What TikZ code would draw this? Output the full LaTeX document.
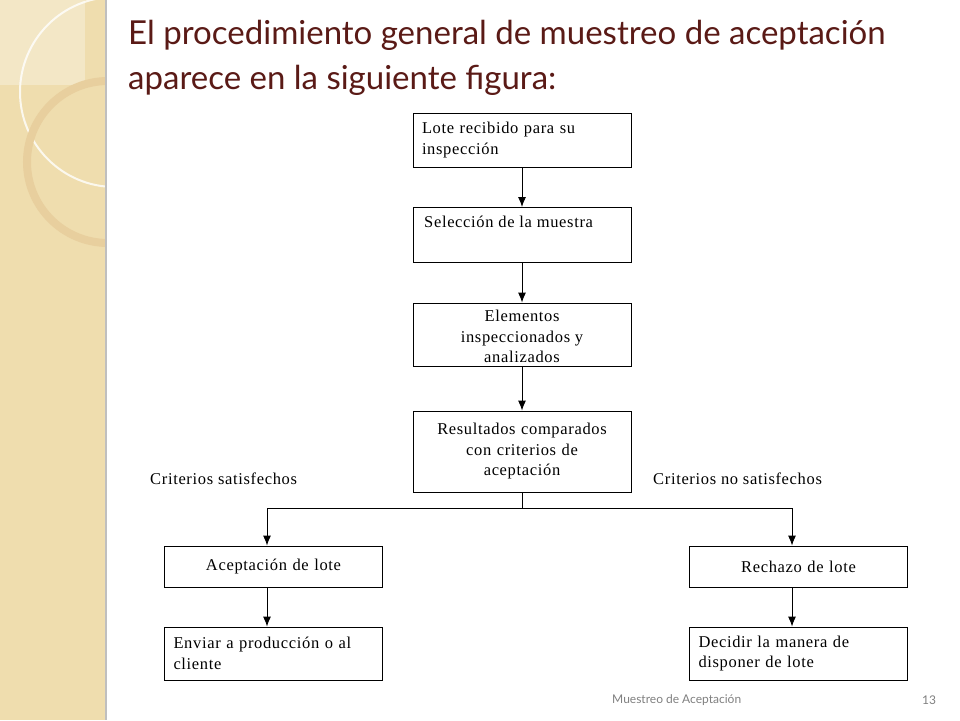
\documentclass[tikz,border=0pt]{standalone}
\usepackage{fontspec}
\setmainfont{Liberation Serif}
\newfontfamily\boxfont[LetterSpace=4]{Liberation Serif}
\newfontfamily\titlefont{Lato}
\usetikzlibrary{arrows.meta}
\definecolor{strip}{HTML}{EFDDAE}
\definecolor{titlec}{HTML}{5A1A16}
\tikzset{
 box/.style={draw,line width=0.9pt,minimum width=218pt,text width=200pt,inner sep=0pt,font=\boxfont\fontsize{16.5}{20.5}\selectfont},
 arr/.style={line width=0.9pt,-{Latex[length=10pt,width=8pt]}},
 lbl/.style={font=\boxfont\fontsize{16.5}{20.5}\selectfont,inner sep=0pt}
}
\begin{document}
\begin{tikzpicture}[x=1pt,y=-1pt]
\useasboundingbox (0,0) rectangle (960,720);
\fill[white] (0,0) rectangle (960,720);
% left strip
\begin{scope}
\clip (0,0) rectangle (105,720);
\fill[strip] (0,0) rectangle (105,720);
\fill[white,opacity=0.3] (0,0) rectangle (85,85);
\draw[white,opacity=0.8,line width=2pt] (115,92) circle (95);
\draw[brown!15!strip,line width=8pt] (108,162) circle (81);
\end{scope}
\fill[black!25] (105,0) rectangle (107,720);
% title
\node[anchor=west,text=titlec,font=\titlefont\fontsize{33}{38}\selectfont,inner sep=0pt] (t1) at (128,35) {El procedimiento general de muestreo de aceptación};
\node[anchor=west,text=titlec,font=\titlefont\fontsize{33}{38}\selectfont,inner sep=0pt] (t2) at (128,80) {aparece en la siguiente figura:};
% boxes
\node[box,minimum height=54pt,align=left] (b1) at (522,140) {Lote recibido para su\\inspección};
\node[box,minimum height=55pt,anchor=north] (b2) at (522,207) {};
\node[lbl,anchor=north west] (b2t) at (424,216) {Selección de la muestra};
\node[box,minimum height=63pt] (b3) at (522,334.5) {};
\begin{scope}
\clip (413,303) rectangle (631,365.5);
\node[lbl,align=center,anchor=north] (b3t) at (522,310) {Elementos\\inspeccionados y\\analizados};
\end{scope}
\node[box,minimum height=81pt,align=center] (b4) at (522,451.5) {Resultados comparados\\con criterios de\\aceptación};
\node[box,minimum height=41pt,align=center] (b5) at (273.5,566.5) {Aceptación de lote};
\node[box,minimum height=41pt,align=center] (b6) at (798.5,566.5) {Rechazo de lote};
\node[box,minimum height=53pt,align=left] (b7) at (273.5,653.5) {Enviar a producción o al\\cliente};
\node[box,minimum height=53pt,align=left] (b8) at (798.5,653.5) {Decidir la manera de\\disponer de lote};
\node[lbl,anchor=west] (l1) at (150,479) {Criterios satisfechos};
\node[lbl,anchor=west] (l2) at (653,479) {Criterios no satisfechos};
\coordinate (j) at (522,508);
\coordinate (jl) at (267,508);
\coordinate (jr) at (792,508);
\draw[arr] (b1) -- (b2);
\draw[arr] (b2) -- (b3);
\draw[arr] (b3) -- (b4);
\draw[line width=0.9pt] (b4.south) -- (j);
\draw[line width=0.9pt] (jl) -- (jr);
\draw[arr] (jl) -- (jl |- b5.north);
\draw[arr] (jr) -- (jr |- b6.north);
\draw[arr] (b5.south -| jl) -- (jl |- b7.north);
\draw[arr] (b6.south -| jr) -- (jr |- b8.north);
% footer
\node[anchor=west,text=black!50,font=\titlefont\fontsize{12}{14}\selectfont,inner sep=0pt] (f1) at (612,700) {Muestreo de Aceptación};
\node[anchor=west,text=black!50,font=\titlefont\fontsize{12}{14}\selectfont,inner sep=0pt] (f2) at (922,700) {13};
\end{tikzpicture}
\end{document}
